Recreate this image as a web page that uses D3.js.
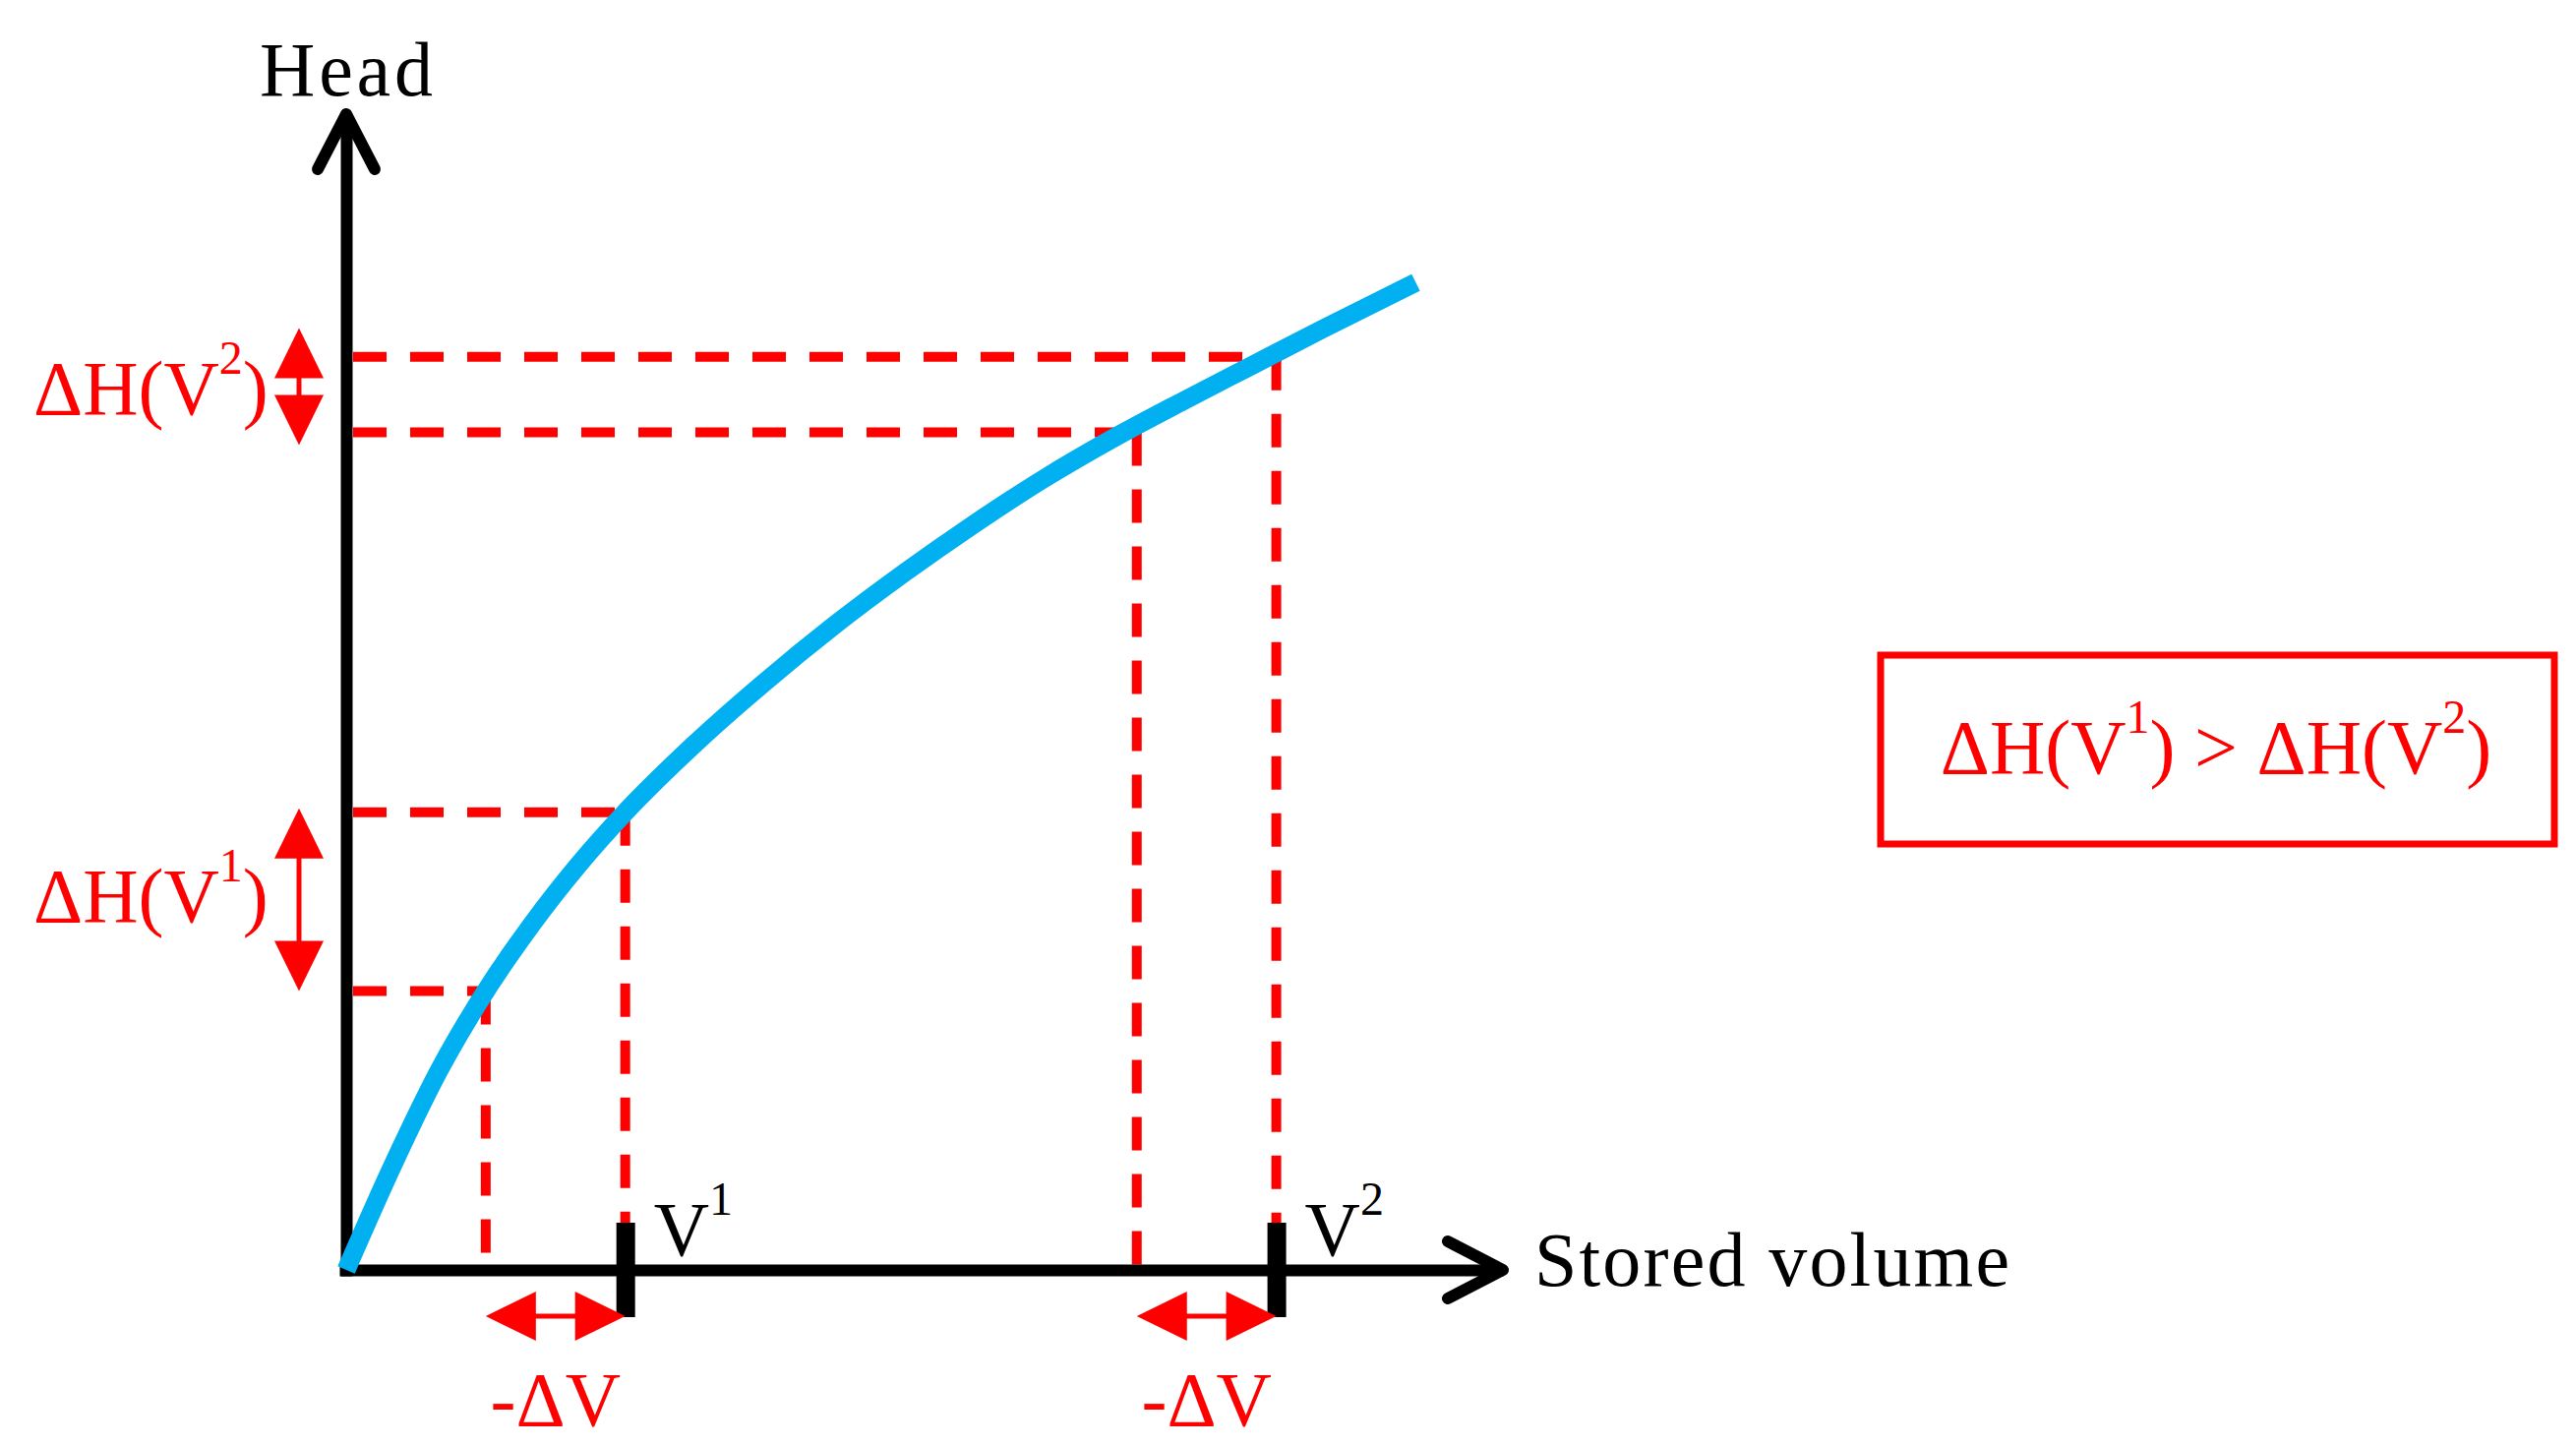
<!DOCTYPE html>
<html>
<head>
<meta charset="utf-8">
<script src="https://cdn.jsdelivr.net/npm/d3@7"></script>
<style>
  html, body { margin: 0; padding: 0; background: #ffffff; }
  svg { display: block; }
  text { font-family: "Liberation Serif", "Times New Roman", serif; }
</style>
</head>
<body>
<svg id="chart" width="2619" height="1470"></svg>
<script>
// ---- data (axis units 0..100) ----
const curveVolume = [0, 4, 8, 12, 16, 20, 24, 30, 36, 42, 48, 54, 60, 66, 72, 78, 84, 92];
const curveHead   = [0, 9.0, 17.2, 24.0, 29.8, 34.9, 39.4, 45.3, 50.6, 55.5, 60.0, 64.2, 68.1, 71.6, 74.8, 77.9, 81.0, 85.0];

const markVolumes = [12, 24, 68, 80];          // V1-ΔV, V1, V2-ΔV, V2
const markHeads   = [24.0, 39.4, 72.1, 78.6];  // head read at each marked volume

const tickVolumes = [24, 80];
const tickLabels  = [["V", "1"], ["V", "2"]];

const deltaPairs  = [[0, 1], [2, 3]];          // indices into mark arrays
const deltaHLabels = [["ΔH(V", "1", ")"], ["ΔH(V", "2", ")"]];
const deltaVLabel = "-ΔV";

const xAxisLabel = "Stored volume";
const yAxisLabel = "Head";
const boxLabel = ["ΔH(V", "1", ") > ΔH(V", "2", ")"];

// ---- layout ----
const RED = "#ff0000", BLUE = "#00b0f0", BLACK = "#000000";
const FS = 78, SFS = 48, SUP = 41;

const svg = d3.select("#chart");
const x = d3.scaleLinear().domain([0, 100]).range([352, 1534]);
const y = d3.scaleLinear().domain([0, 100]).range([1291, 110]);

// superscript text helper
function supText(g, px, py, parts, anchor, color) {
  const t = g.append("text").attr("x", px).attr("y", py)
    .attr("text-anchor", anchor || "start").attr("fill", color)
    .attr("font-size", FS);
  parts.forEach((p, i) => {
    const isSup = i % 2 === 1;
    const ts = t.append("tspan").text(p);
    if (isSup) ts.attr("font-size", SFS).attr("dy", -SUP);
    else if (i > 0) ts.attr("dy", SUP);
  });
  return t;
}

// ---- dashed guide lines ----
const guides = svg.append("g").attr("stroke", RED).attr("stroke-width", 10)
  .attr("stroke-dasharray", "34,24").attr("fill", "none");
markVolumes.forEach((v, i) => {
  const h = markHeads[i];
  guides.append("line")
    .attr("x1", x(0) + 7).attr("x2", x(v) + 5)
    .attr("y1", y(h)).attr("y2", y(h));
  guides.append("line")
    .attr("x1", x(v)).attr("x2", x(v))
    .attr("y1", y(h)).attr("y2", y(0));
});

// ---- axes (lines via d3 axes) ----
const axX = svg.append("g").attr("transform", `translate(0,${y(0)})`)
  .call(d3.axisBottom(x.copy().range([x(0) - 7, x(100) - 6])).tickValues([]).tickSizeOuter(0));
const axY = svg.append("g").attr("transform", `translate(${x(0)},0)`)
  .call(d3.axisLeft(y.copy().range([y(0) + 6, y(100) + 6])).tickValues([]).tickSizeOuter(0));
[axX, axY].forEach(a => a.select(".domain").attr("stroke", BLACK).attr("stroke-width", 12));

// arrow heads (open chevrons)
const ah = svg.append("g").attr("stroke", BLACK).attr("stroke-width", 12)
  .attr("fill", "none").attr("stroke-linecap", "round").attr("stroke-linejoin", "round");
const tipY = y(100) + 6, tipX = x(100) - 6;
ah.append("path").attr("d", d3.line()([[x(0) - 29, tipY + 56], [x(0), tipY], [x(0) + 29, tipY + 56]]));
ah.append("path").attr("d", d3.line()([[tipX - 56, y(0) - 29], [tipX, y(0)], [tipX - 56, y(0) + 29]]));

// ---- curve ----
const curveData = curveVolume.map((v, i) => ({ v, h: curveHead[i] }));
svg.append("path").datum(curveData)
  .attr("fill", "none").attr("stroke", BLUE).attr("stroke-width", 19)
  .attr("d", d3.line().x(d => x(d.v)).y(d => y(d.h)).curve(d3.curveMonotoneX));

// ---- V ticks ----
const tk = svg.append("g").attr("transform", `translate(0,${y(0) - 48})`)
  .call(d3.axisBottom(x).tickValues(tickVolumes).tickSize(96).tickFormat(""));
tk.select(".domain").remove();
tk.selectAll(".tick line").attr("stroke", BLACK).attr("stroke-width", 19);

tickVolumes.forEach((v, i) => {
  supText(svg, x(v) + 29, y(0) - 15, tickLabels[i], "start", BLACK);
});

// ---- double arrows ----
const HL = 51, HW = 25, MINLEN = 119;
function hArrow(x1, x2, yy) {
  const g = svg.append("g").attr("fill", RED);
  g.append("path").attr("d", d3.line()([[x1, yy], [x1 + HL, yy - HW], [x1 + HL, yy + HW]]) + "Z");
  g.append("path").attr("d", d3.line()([[x2, yy], [x2 - HL, yy - HW], [x2 - HL, yy + HW]]) + "Z");
  g.append("line").attr("x1", x1 + HL - 1).attr("x2", x2 - HL + 1).attr("y1", yy).attr("y2", yy)
    .attr("stroke", RED).attr("stroke-width", 5);
}
function vArrow(xx, y1, y2) {
  if (y2 - y1 < MINLEN) { const c = (y1 + y2) / 2 - 6; y1 = c - MINLEN / 2; y2 = c + MINLEN / 2; }
  const g = svg.append("g").attr("fill", RED);
  g.append("path").attr("d", d3.line()([[xx, y1], [xx - HW, y1 + HL], [xx + HW, y1 + HL]]) + "Z");
  g.append("path").attr("d", d3.line()([[xx, y2], [xx - HW, y2 - HL], [xx + HW, y2 - HL]]) + "Z");
  g.append("line").attr("x1", xx).attr("x2", xx).attr("y1", y1 + HL - 1).attr("y2", y2 - HL + 1)
    .attr("stroke", RED).attr("stroke-width", 5);
}

deltaPairs.forEach(([a, b], i) => {
  const xa = x(markVolumes[a]), xb = x(markVolumes[b]);
  const ay = y(0) + 47;
  hArrow(xa, xb, ay);
  svg.append("text").attr("x", (xa + xb) / 2).attr("y", ay + 111)
    .attr("text-anchor", "middle").attr("fill", RED).attr("font-size", FS).text(deltaVLabel);

  const ya = y(markHeads[b]), yb = y(markHeads[a]);
  vArrow(304, ya - 4, yb);
  supText(svg, 34, (ya + yb) / 2 + 20, deltaHLabels[i], "start", RED);
});

// ---- axis titles ----
svg.append("text").attr("x", x(0)).attr("y", 97).attr("text-anchor", "middle")
  .attr("font-size", FS).attr("fill", BLACK).attr("textLength", 176).text(yAxisLabel);
svg.append("text").attr("x", 1560).attr("y", 1307)
  .attr("font-size", FS).attr("fill", BLACK).attr("textLength", 483).text(xAxisLabel);

// ---- annotation box ----
svg.append("rect").attr("x", 1912).attr("y", 666).attr("width", 685).attr("height", 192)
  .attr("fill", "none").attr("stroke", RED).attr("stroke-width", 7);
supText(svg, 2253, 786, boxLabel, "middle", RED);
</script>
</body>
</html>
